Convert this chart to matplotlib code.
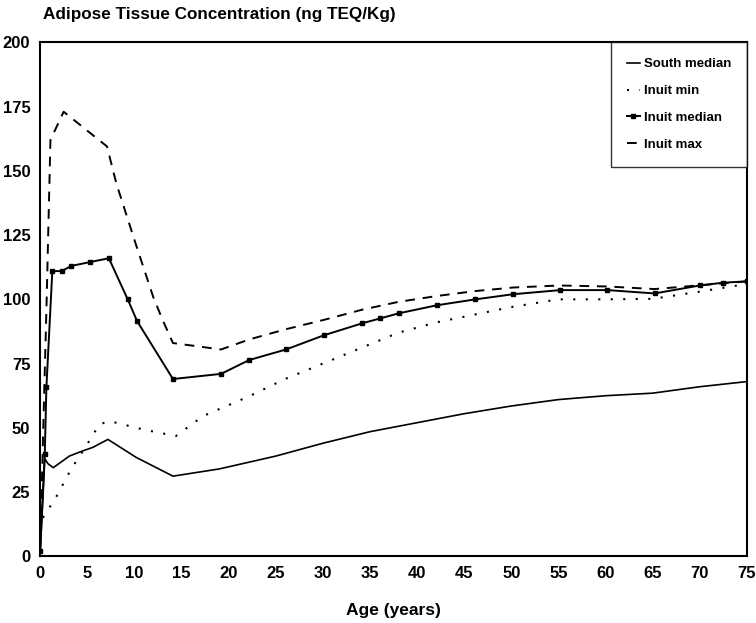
import matplotlib
matplotlib.use("Agg")
import matplotlib.pyplot as plt

# values (age in years, ng TEQ/Kg)
south_age = [0, 0.5, 0.85, 1.4, 3.1, 4.5, 5.6, 7.2, 10.2, 14.1, 19, 25, 30, 35, 40, 45, 50, 55, 60, 65, 70, 75]
south_med = [0, 38, 36, 34.5, 39, 41, 42.4, 45.5, 38.5, 31.2, 34, 39, 44, 48.5, 52, 55.5, 58.5, 61, 62.5, 63.5, 66, 68]

min_age = [0.3, 1.7, 3.3, 4.9, 6.3, 7.4, 10.9, 14.4, 17.3, 22.2, 26, 30, 34, 38, 42, 46, 50, 55, 60, 65, 70, 75]
inuit_min = [15, 23, 34, 43, 51.4, 52.6, 49.4, 46.8, 54.6, 62.3, 69, 75, 81, 87, 91, 94, 97, 100, 100, 100.2, 103, 106]

med_age = [0, 0.5, 0.67, 1.3, 2.3, 3.3, 5.3, 7.3, 9.3, 10.3, 14.1, 19.2, 22.2, 26.1, 30.1, 34.2, 36.1, 38.1,
           42.1, 46.2, 50.2, 55.2, 60.2, 65.2, 70, 72.5, 75]
inuit_med = [2, 40, 65.7, 111, 111, 113, 114.5, 116, 100, 91.5, 69, 71, 76.4, 80.5, 86, 90.7, 92.6, 94.6,
             97.7, 100, 102, 103.6, 103.6, 102.3, 105.4, 106.5, 107]

max_age = [0, 0.7, 1.1, 2.5, 7.1, 8.1, 10.2, 12, 13, 14.1, 19.2, 22.2, 26, 30.1, 34.2, 38, 42.1, 46.1, 50.2,
           55.1, 60.2, 65.2, 75]
inuit_max = [2, 100, 162, 173, 159.5, 145, 121, 101, 92, 83, 80.5, 84.4, 88.3, 92, 96, 99, 101.3, 103.2, 104.6,
             105.4, 105, 104, 107]

x_ticks = list(range(0, 80, 5))
y_ticks = list(range(0, 225, 25))

plt.rcParams["font.family"] = ["Liberation Sans", "DejaVu Sans"]
plt.rcParams["font.weight"] = "bold"

fig = plt.figure(figsize=(7.56, 6.23), dpi=100)
ax = fig.add_axes([0.053, 0.107, 0.935, 0.825])

ax.plot(south_age, south_med, color="black", lw=1.2, label="South median")
ax.plot(min_age, inuit_min, color="black", lw=1.5, ls=(0, (1, 5)), label="Inuit min")
ax.plot(med_age, inuit_med, color="black", lw=1.4, marker="s", ms=3.5, label="Inuit median")
ax.plot(max_age, inuit_max, color="black", lw=1.4, ls=(0, (5, 4)), label="Inuit max")

ax.set_xlim(0, 75)
ax.set_ylim(0, 200)
ax.set_xticks(x_ticks)
ax.set_yticks(y_ticks)
ax.tick_params(length=0, labelsize=12, pad=7)
for s in ax.spines.values():
    s.set_linewidth(1.5)

ax.set_xlabel("Age (years)", fontsize=12.5, fontweight="bold", labelpad=16)
fig.text(0.057, 0.976, "Adipose Tissue Concentration (ng TEQ/Kg)", fontsize=12.3, ha="left", va="center")

leg = ax.legend(loc="upper right", fontsize=9.5, handlelength=1.0, handletextpad=0.3,
                labelspacing=1.1, borderpad=1.2, frameon=True, fancybox=False, borderaxespad=0,
                markerscale=1.0)
leg.get_frame().set_edgecolor("black")
leg.get_frame().set_linewidth(1.0)

fig.savefig("out.png", dpi=100)
